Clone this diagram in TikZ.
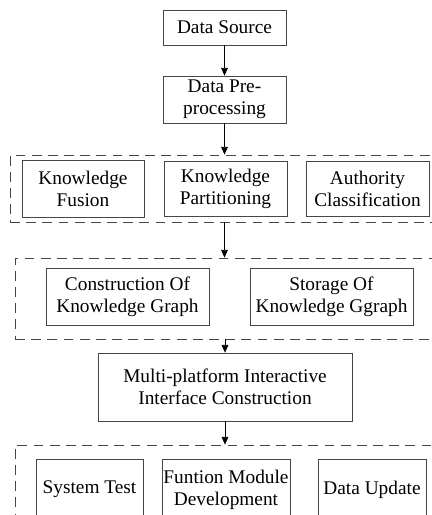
\documentclass[tikz,border=0pt]{standalone}
\usepackage{fontspec}
\setmainfont{Liberation Serif}
\usepackage{xcolor}
\definecolor{fcgray}{RGB}{70,70,70}
\usetikzlibrary{arrows.meta, positioning}

\tikzset{
  stepbox/.style={draw=fcgray, thin, align=center, inner sep=0pt, font=\fontsize{11}{12.5}\selectfont},
  groupbox/.style={draw=fcgray, thin, dash pattern=on 5.6pt off 3.6pt, inner sep=0pt},
  flow/.style={draw=black, thin, -{Triangle[width=3.8pt,length=4.4pt]}}
}

\begin{document}
\begin{tikzpicture}
  \useasboundingbox (0,0) rectangle (8.64,10.30);
  \clip (0,0) rectangle (8.64,10.30);

  % Top of the chain
  \node[stepbox, minimum width=2.46cm, minimum height=0.70cm] (src) at (4.49,9.75) {Data Source};
  \node[stepbox, minimum width=2.46cm, minimum height=0.94cm] (pre) at (4.49,8.31) {Data Pre-\\processing};

  % --- Group 1 ---
  \node[groupbox, minimum width=8.70cm, minimum height=1.34cm] (grp1) at (4.55,6.53) {};
  \node[stepbox, minimum width=2.44cm, minimum height=1.14cm] (fusion) at (1.66,6.52) {Knowledge\\Fusion};
  \node[stepbox, minimum width=2.46cm, minimum height=1.10cm] (part) at (4.51,6.53) {Knowledge\\Partitioning};
  \node[stepbox, minimum width=2.46cm, minimum height=1.10cm] (auth) at (7.35,6.53) {Authority\\Classification};

  % --- Group 2 ---
  \node[groupbox, minimum width=8.60cm, minimum height=1.62cm] (grp2) at (4.60,4.33) {};
  \node[stepbox, minimum width=3.26cm, minimum height=1.14cm] (build) at (2.55,4.37) {Construction Of\\Knowledge Graph};
  \node[stepbox, minimum width=3.26cm, minimum height=1.14cm] (store) at (6.63,4.37) {Storage Of\\Knowledge Ggraph};

  % Interface
  \node[stepbox, minimum width=5.08cm, minimum height=1.36cm] (multi) at (4.50,2.56) {Multi-platform Interactive\\Interface Construction};

  % --- Group 3 ---
  \node[groupbox, minimum width=8.60cm, minimum height=1.80cm] (grp3) at (4.60,0.50) {};
  \node[stepbox, minimum width=2.14cm, minimum height=1.22cm] (test) at (1.79,0.51) {System Test};
  \node[stepbox, minimum width=2.56cm, minimum height=1.22cm] (module) at (4.52,0.51) {Funtion Module\\Development};
  \node[stepbox, minimum width=2.16cm, minimum height=1.22cm] (update) at (7.44,0.51) {Data Update};

  % Arrows
  \draw[flow] (src) -- (pre);
  \draw[flow] (pre) -- (pre.south |- grp1.north);
  \draw[flow] (pre.south |- grp1.south) -- (pre.south |- grp2.north);
  \draw[flow] (multi.north |- grp2.south) -- (multi);
  \draw[flow] (multi) -- (multi.south |- grp3.north);
\end{tikzpicture}
\end{document}
